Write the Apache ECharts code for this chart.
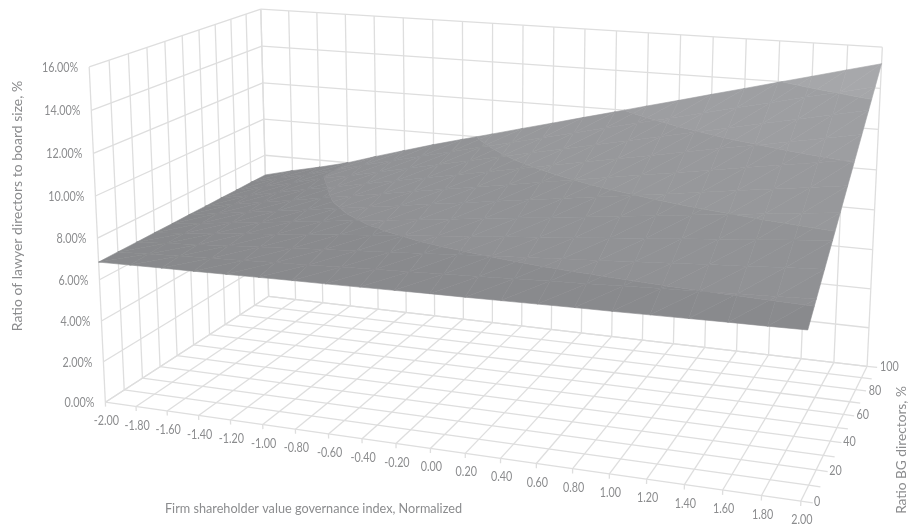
<!DOCTYPE html>
<html><head><meta charset="utf-8">
<style>html,body{margin:0;padding:0;background:#fff}#c{width:908px;height:528px}</style>
<script src="https://cdn.jsdelivr.net/npm/echarts@6/dist/echarts.min.js"></script>
</head><body><div id="c"></div>
<script>
const governanceTicks = [-2,-1.8,-1.6,-1.4,-1.2,-1,-0.8,-0.6,-0.4,-0.2,0,0.2,0.4,0.6,0.8,1,1.2,1.4,1.6,1.8,2];
const bgGrid = [0,10,20,30,40,50,60,70,80,90,100];
const bgLabels = [0,20,40,60,80,100];
const ratioTicks = [0,2,4,6,8,10,12,14,16];
const bg0   = [6.85,6.88,6.91,6.93,6.96,6.99,7.02,7.04,7.07,7.10,7.13,7.15,7.18,7.21,7.24,7.26,7.29,7.32,7.35,7.37,7.40];
const bg10  = [6.86,6.92,6.99,7.05,7.12,7.19,7.25,7.32,7.39,7.45,7.52,7.58,7.65,7.72,7.78,7.85,7.92,7.98,8.05,8.11,8.18];
const bg20  = [6.86,6.97,7.07,7.18,7.28,7.39,7.49,7.60,7.70,7.81,7.91,8.02,8.12,8.23,8.33,8.44,8.54,8.65,8.75,8.86,8.96];
const bg30  = [6.87,7.01,7.15,7.30,7.44,7.58,7.73,7.87,8.02,8.16,8.30,8.45,8.59,8.73,8.88,9.02,9.17,9.31,9.45,9.60,9.74];
const bg40  = [6.87,7.05,7.24,7.42,7.60,7.78,7.97,8.15,8.33,8.51,8.70,8.88,9.06,9.24,9.43,9.61,9.79,9.97,10.16,10.34,10.52];
const bg50  = [6.88,7.10,7.32,7.54,7.76,7.98,8.20,8.42,8.65,8.87,9.09,9.31,9.53,9.75,9.97,10.19,10.42,10.64,10.86,11.08,11.30];
const bg60  = [6.88,7.14,7.40,7.66,7.92,8.18,8.44,8.70,8.96,9.22,9.48,9.74,10.00,10.26,10.52,10.78,11.04,11.30,11.56,11.82,12.08];
const bg70  = [6.89,7.18,7.48,7.80,8.08,8.38,8.68,8.98,9.28,9.57,9.87,10.17,10.47,10.77,11.07,11.37,11.67,11.96,12.26,12.56,12.86];
const bg80  = [6.89,7.23,7.57,7.97,8.24,8.58,8.92,9.25,9.59,9.93,10.27,10.60,10.94,11.28,11.62,11.95,12.29,12.63,12.97,13.30,13.64];
const bg90  = [6.90,7.27,7.62,8.00,8.40,8.78,9.15,9.53,9.91,10.28,10.66,11.03,11.41,11.79,12.16,12.54,12.92,13.29,13.67,14.04,14.42];
const bg100 = [6.90,7.28,7.62,8.00,8.48,8.94,9.39,9.81,10.22,10.64,11.05,11.47,11.88,12.30,12.71,13.13,13.54,13.96,14.37,14.79,15.20];
const surfaceRows = [bg0,bg10,bg20,bg30,bg40,bg50,bg60,bg70,bg80,bg90,bg100];
const xName = 'Firm shareholder value governance index, Normalized';
const yName = 'Ratio BG directors, %';
const zName = 'Ratio of lawyer directors to board size, %';

// Camera calibration of the 3D box: box corner -> screen position, fitted to one projective matrix
const calib = [
 [0,0,0,105.7,402.3],[1,0,0,800.7,501.3],[1,1,0,867.3,366],[0,1,0,268.3,296.3],
 [0,0,1,89,66.7],[0,1,1,261,9.3],[1,1,1,882.3,47.3]];
function fitCamera(){
  const S=500, rows=[], rhs=[];
  calib.forEach(([a,b,c,px,py])=>{ const X=px/S,Y=py/S;
    rows.push([a,b,c,1,0,0,0,0,-X*a,-X*b,-X*c]); rhs.push(X);
    rows.push([0,0,0,0,a,b,c,1,-Y*a,-Y*b,-Y*c]); rhs.push(Y);});
  const n=11, M=[];
  for(let i=0;i<n;i++){M.push(new Array(n+1).fill(0));
    for(let j=0;j<n;j++) rows.forEach(r=>M[i][j]+=r[i]*r[j]);
    rows.forEach((r,k)=>M[i][n]+=r[i]*rhs[k]);}
  for(let c=0;c<n;c++){let p=c;for(let r=c+1;r<n;r++)if(Math.abs(M[r][c])>Math.abs(M[p][c]))p=r;
    [M[c],M[p]]=[M[p],M[c]];
    for(let r=0;r<n;r++)if(r!==c){const f=M[r][c]/M[c][c];for(let k=c;k<=n;k++)M[r][k]-=f*M[c][k];}}
  const h=M.map((r,i)=>r[n]/r[i]);
  return (a,b,c)=>{const w=h[8]*a+h[9]*b+h[10]*c+1;
    return [S*(h[0]*a+h[1]*b+h[2]*c+h[3])/w,S*(h[4]*a+h[5]*b+h[6]*c+h[7])/w];};
}
const cam=fitCamera();
const project=(x,bg,z)=>cam((x+2)/4,bg/100,z/16);

const LINE='#dedede', TXT='#8b8c8e', FONT='Lato';
const bands=[[0,8,'#88898c','#8a8b8e'],[8,10,'#909194','#929396'],[10,12,'#97989b','#98999c'],
             [12,14,'#9d9ea1','#9e9fa2'],[14,16,'#a6a7aa','#a8a9ac']];

function clipTri(tri,lo,hi){
  const clip=(pts,lim,keepAbove)=>{const out=[];
    for(let i=0;i<pts.length;i++){const A=pts[i],B=pts[(i+1)%pts.length];
      const ia=keepAbove?A[2]>=lim:A[2]<=lim, ib=keepAbove?B[2]>=lim:B[2]<=lim;
      if(ia)out.push(A);
      if(ia!==ib){const t=(lim-A[2])/(B[2]-A[2]);out.push([A[0]+t*(B[0]-A[0]),A[1]+t*(B[1]-A[1]),lim]);}}
    return out;};
  let p=clip(tri,lo,true); if(p.length) p=clip(p,hi,false); return p;
}
const hex=c=>[1,3,5].map(i=>parseInt(c.substr(i,2),16));
const mix=(a,b,t)=>{const A=hex(a),B=hex(b);return 'rgb('+A.map((v,i)=>Math.round(v+(B[i]-v)*t)).join(',')+')';};

// data lists built from the tick arrays
const lineData=[];
const G=governanceTicks,xa=G[0],xb=G[G.length-1],zt=16;
G.forEach(x=>{lineData.push([x,0,0,x,100,0]);lineData.push([x,100,0,x,100,zt]);lineData.push([x,0,-0.22,x,0,0]);});
bgGrid.forEach(b=>{lineData.push([xa,b,0,xb,b,0]);lineData.push([xa,b,0,xa,b,zt]);lineData.push([xb,b,0,xb+0.06,b,0]);});
ratioTicks.forEach(z=>{lineData.push([xa,0,z,xa,100,z]);lineData.push([xa,100,z,xb,100,z]);});
const cellData=[];
for(let j=0;j<bgGrid.length-1;j++)for(let i=0;i<G.length-1;i++)cellData.push([i,j]);

const textData=[];
ratioTicks.forEach(z=>textData.push({v:[xa,0,z],t:z.toFixed(2)+'%',dx:-11,dy:1,a:'right'}));
G.forEach(x=>textData.push({v:[x,0,0],t:x.toFixed(2),dx:1,dy:19,a:'center'}));
bgLabels.forEach(b=>textData.push({v:[xb,b,0],t:String(b),dx:13,dy:1,a:'left'}));

const renderLine=(p,api)=>{const d=lineData[p.dataIndex];
  const A=api.coord(project(d[0],d[1],d[2])),B=api.coord(project(d[3],d[4],d[5]));
  return {type:'line',shape:{x1:A[0],y1:A[1],x2:B[0],y2:B[1]},style:{stroke:LINE,lineWidth:1.3},silent:true};};
const renderCell=(p,api)=>{const [i,j]=cellData[p.dataIndex];
  const P=(ii,jj)=>{const s=api.coord(project(G[ii],bgGrid[jj],surfaceRows[jj][ii]));return [s[0],s[1],surfaceRows[jj][ii]];};
  const a=P(i,j),b=P(i+1,j),c=P(i+1,j+1),d=P(i,j+1);
  const kids=[];
  [[a,b,c],[a,c,d]].forEach(tri=>bands.forEach(([lo,hi,c0,c1])=>{
    const poly=clipTri(tri,lo,hi); if(poly.length<3) return;
    const mz=poly.reduce((s,q)=>s+q[2],0)/poly.length;
    const t=lo===0?(mz-6.8)/1.2:(mz-lo)/(hi-lo);
    const col=mix(c0,c1,Math.max(0,Math.min(1,t)));
    kids.push({type:'polygon',shape:{points:poly.map(q=>[q[0],q[1]])},style:{fill:col,stroke:col,lineWidth:0.6},silent:true});
  }));
  return {type:'group',children:kids};};
const renderText=(p,api)=>{const d=textData[p.dataIndex];
  const s=api.coord(project(d.v[0],d.v[1],d.v[2]));
  return {type:'text',x:s[0]+d.dx,y:s[1]+d.dy,scaleX:0.86,style:{text:d.t,fill:TXT,font:'12.5px '+FONT,align:d.a,verticalAlign:'middle'},silent:true};};

const chart=echarts.init(document.getElementById('c'),null,{renderer:'canvas',width:908,height:528});
const hiddenAxis=(max,inv)=>({type:'value',min:0,max:max,inverse:inv,show:false,splitLine:{show:false}});
chart.setOption({
  animation:false,
  backgroundColor:'#ffffff',
  grid:{left:0,right:0,top:0,bottom:0},
  xAxis:hiddenAxis(908,false),
  yAxis:hiddenAxis(528,true),
  tooltip:{show:false},
  graphic:[
    {type:'text',x:313.5,y:508,scaleX:0.905,style:{text:xName,fill:TXT,font:'14px '+FONT,align:'center',verticalAlign:'middle'},silent:true},
    {type:'text',x:17,y:206,rotation:Math.PI/2,style:{text:zName,fill:TXT,font:'14px '+FONT,align:'center',verticalAlign:'middle'},silent:true},
    {type:'text',x:902,y:450,rotation:Math.PI/2,style:{text:yName,fill:TXT,font:'13.7px '+FONT,align:'center',verticalAlign:'middle'},silent:true}
  ],
  series:[
    {type:'custom',coordinateSystem:'cartesian2d',clip:false,data:lineData.map((_,i)=>[i]),renderItem:renderLine,encode:{x:0,y:0},z:1},
    {type:'custom',coordinateSystem:'cartesian2d',clip:false,data:cellData.map((_,i)=>[i]),renderItem:renderCell,encode:{x:0,y:0},z:2},
    {type:'custom',coordinateSystem:'cartesian2d',clip:false,data:textData.map((_,i)=>[i]),renderItem:renderText,encode:{x:0,y:0},z:3}
  ]
});
</script></body></html>
